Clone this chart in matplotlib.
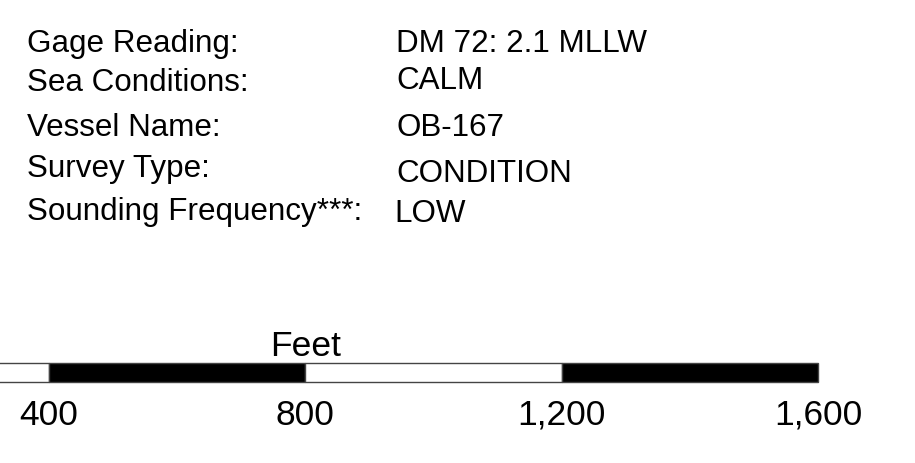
import matplotlib.pyplot as plt
from matplotlib.patches import Rectangle

plt.rcParams['font.family'] = ['Liberation Sans', 'DejaVu Sans']

# survey info block
labels = ['Gage Reading:', 'Sea Conditions:', 'Vessel Name:', 'Survey Type:',
          'Sounding Frequency***:']
values = ['DM 72: 2.1 MLLW', 'CALM', 'OB-167', 'CONDITION', 'LOW']
label_base = [52, 91, 136, 177, 220]   # baselines in px from top
value_base = [52, 89, 136, 182, 222]
value_x = [396, 396, 396, 396, 394]

# scale bar (feet)
seg_start = [0, 400, 800, 1200]
seg_end = [400, 800, 1200, 1600]
seg_color = ['white', 'black', 'white', 'black']
tick_vals = [400, 800, 1200, 1600]
tick_text = ['400', '800', '1,200', '1,600']

W, H = 915, 464
fig = plt.figure(figsize=(W / 100, H / 100), dpi=100)
fig.patch.set_facecolor('white')

# pixel axes for the text block
tx = fig.add_axes([0, 0, 1, 1])
tx.set_xlim(0, W)
tx.set_ylim(H, 0)
tx.axis('off')
fs = 22.6
for lab, yb in zip(labels, label_base):
    tx.text(27, yb, lab, fontsize=fs, va='baseline', ha='left')
for val, yb, xv in zip(values, value_base, value_x):
    tx.text(xv, yb, val, fontsize=fs, va='baseline', ha='left')

# scale bar axes in feet
px_per_ft = (818 - 49) / 1200
x0 = 400 - 49 / px_per_ft
sb = fig.add_axes([0, 0, 1, 1])
sb.set_xlim(x0, x0 + W / px_per_ft)
sb.set_ylim(H, 0)
sb.axis('off')
for s, e, c in zip(seg_start, seg_end, seg_color):
    sb.add_patch(Rectangle((s, 364), e - s, 19, facecolor=c,
                           edgecolor='#444444', linewidth=1.0))
fs2 = 25.5
for v, t in zip(tick_vals, tick_text):
    sb.text(v, 425, t, fontsize=fs2, ha='center', va='baseline')
sb.text(800, 356, 'Feet', fontsize=fs2, ha='center', va='baseline')

fig.savefig('out.png', dpi=100)
